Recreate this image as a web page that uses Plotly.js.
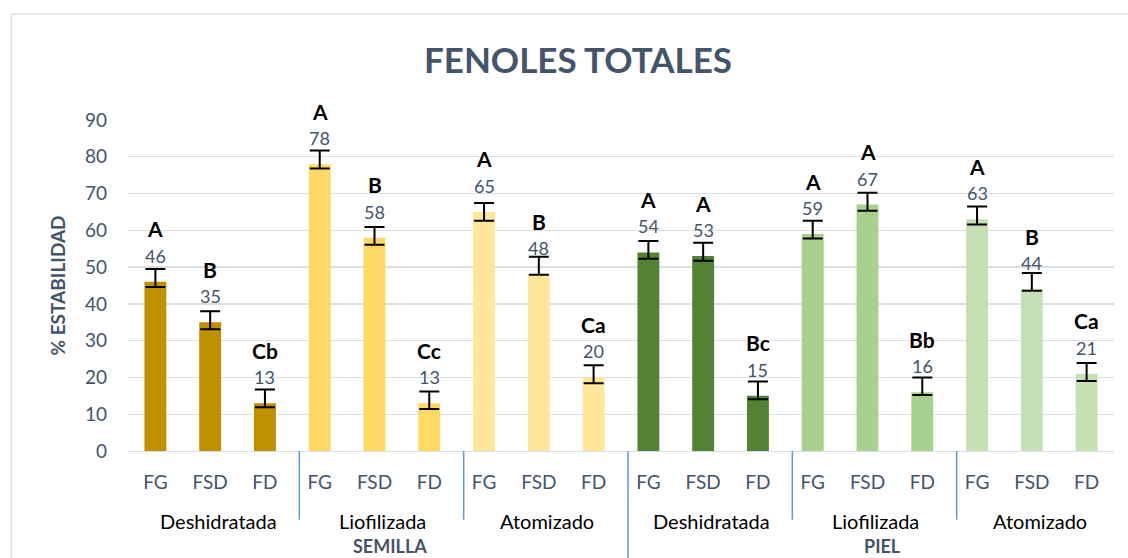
<!DOCTYPE html>
<html><head><meta charset="utf-8">
<script src="https://cdn.plot.ly/plotly-3.0.1.min.js"></script>
<style>html,body{margin:0;padding:0;background:#fff}#chart{width:1128px;height:558px}</style>
</head><body><div id="chart"></div>
<script>
// ---- data ----
const subLabels = ["FG","FSD","FD","FG","FSD","FD","FG","FSD","FD","FG","FSD","FD","FG","FSD","FD","FG","FSD","FD"];
const methodLabels = ["Deshidratada","Liofilizada","Atomizado","Deshidratada","Liofilizada","Atomizado"];
const partLabels = ["SEMILLA","PIEL"];
const values = [46,35,13,78,58,13,65,48,20,54,53,15,59,67,16,63,44,21];
const errPlus = [3.5,3.0,3.7,3.7,2.9,3.2,2.4,4.8,3.3,3.1,3.6,3.9,3.6,3.2,4.0,3.5,4.4,2.9];
const errMinus = [1.4,1.9,1.1,1.2,1.9,1.6,2.4,0.1,1.6,1.7,1.3,0.9,1.2,1.7,0.8,1.4,0.4,2.0];
const letters = ["A","B","Cb","A","B","Cc","A","B","Ca","A","A","Bc","A","A","Bb","A","B","Ca"];
const yTicks = [0,10,20,30,40,50,60,70,80,90];

// ---- styles ----
const groupColors = ["#bf9000","#ffd966","#ffe699","#548235","#a9d18e","#c5e0b4"];
const FONT = "Lato, 'Open Sans', sans-serif";
const SLATE = "#44546a";
const perGroup = 3;
const groupsPerPart = 3;

const xs = values.map((v, i) => i);
const barColors = values.map((v, i) => groupColors[Math.floor(i / perGroup)]);

const trace = {
  type: "bar",
  x: xs,
  y: values,
  marker: {color: barColors, line: {width: 0}},
  error_y: {type: "data", symmetric: false, array: errPlus, arrayminus: errMinus,
            color: "#000000", thickness: 2, width: 10},
  hoverinfo: "y"
};

const annotations = [];
values.forEach((v, i) => {
  annotations.push({x: xs[i], y: v, xref: "x", yref: "y", text: String(v), showarrow: false,
    yshift: 26, yanchor: "middle", font: {family: FONT, size: 18, color: SLATE}});
  annotations.push({x: xs[i], y: v, xref: "x", yref: "y", text: "<b>" + letters[i] + "</b>", showarrow: false,
    yshift: 53, yanchor: "middle", font: {family: FONT, size: 21, color: "#000000"}});
});
methodLabels.forEach((m, g) => {
  annotations.push({x: g * perGroup + (perGroup - 1) / 2, xref: "x", y: (450.5 - 520) / 330, yref: "paper",
    text: m, showarrow: false, xshift: 8, yanchor: "middle",
    font: {family: FONT, size: 20, color: "#000000"}});
});
partLabels.forEach((p, k) => {
  const n = perGroup * groupsPerPart;
  annotations.push({x: k * n + (n - 1) / 2, xref: "x", y: (450.5 - 545) / 330, yref: "paper",
    text: "<b>" + p + "</b>", showarrow: false, xshift: 15, yanchor: "middle",
    font: {family: FONT, size: 18, color: SLATE}});
});

const shapes = [];
// outer chart border
shapes.push({type: "rect", xref: "paper", yref: "paper", x0: (11 - 127.8) / 986.6, x1: 1.3,
  y0: -1, y1: (450.5 - 15) / 330, line: {color: "#dadfe6", width: 1.3}, fillcolor: "rgba(0,0,0,0)", layer: "below"});
// group dividers
const nGroups = methodLabels.length;
for (let g = 1; g < nGroups; g++) {
  const partBoundary = (g % groupsPerPart === 0);
  shapes.push({type: "line", xref: "x", yref: "paper", xsizemode: "pixel", xanchor: g * perGroup - 0.5,
    x0: 7, x1: 7, y0: partBoundary ? -1 : (450.5 - 519) / 330, y1: 0,
    line: {color: "#5b9bd5", width: 1.5}});
}

const layout = {
  width: 1128, height: 558,
  margin: {l: 128, r: 14, t: 120, b: 107},
  paper_bgcolor: "#ffffff", plot_bgcolor: "#ffffff",
  showlegend: false,
  bargap: 0.6,
  title: {text: "<b>FENOLES TOTALES</b>", x: 578 / 1128, xref: "container", xanchor: "center",
    y: 1 - 61 / 558, yref: "container", yanchor: "middle",
    font: {family: FONT, size: 35, color: SLATE}},
  xaxis: {range: [-0.5, values.length - 0.5], tickvals: xs, ticktext: subLabels,
    showgrid: false, zeroline: false, showline: true, linecolor: "#dadfe6", linewidth: 1.3,
    ticks: "", ticklabelstandoff: 14, tickfont: {family: FONT, size: 19, color: SLATE}, fixedrange: true},
  yaxis: {range: [0, 90], tickvals: yTicks, showgrid: true, gridcolor: "#dadfe6", gridwidth: 1.3,
    zeroline: false, showline: false, ticks: "", ticklabelstandoff: 20,
    tickfont: {family: FONT, size: 19, color: SLATE},
    title: {text: "<b>% ESTABILIDAD</b>", standoff: 14, font: {family: FONT, size: 19, color: SLATE}}},
  annotations: annotations,
  shapes: shapes
};

Plotly.newPlot("chart", [trace], layout, {displayModeBar: false, staticPlot: true});
</script>
</body></html>
